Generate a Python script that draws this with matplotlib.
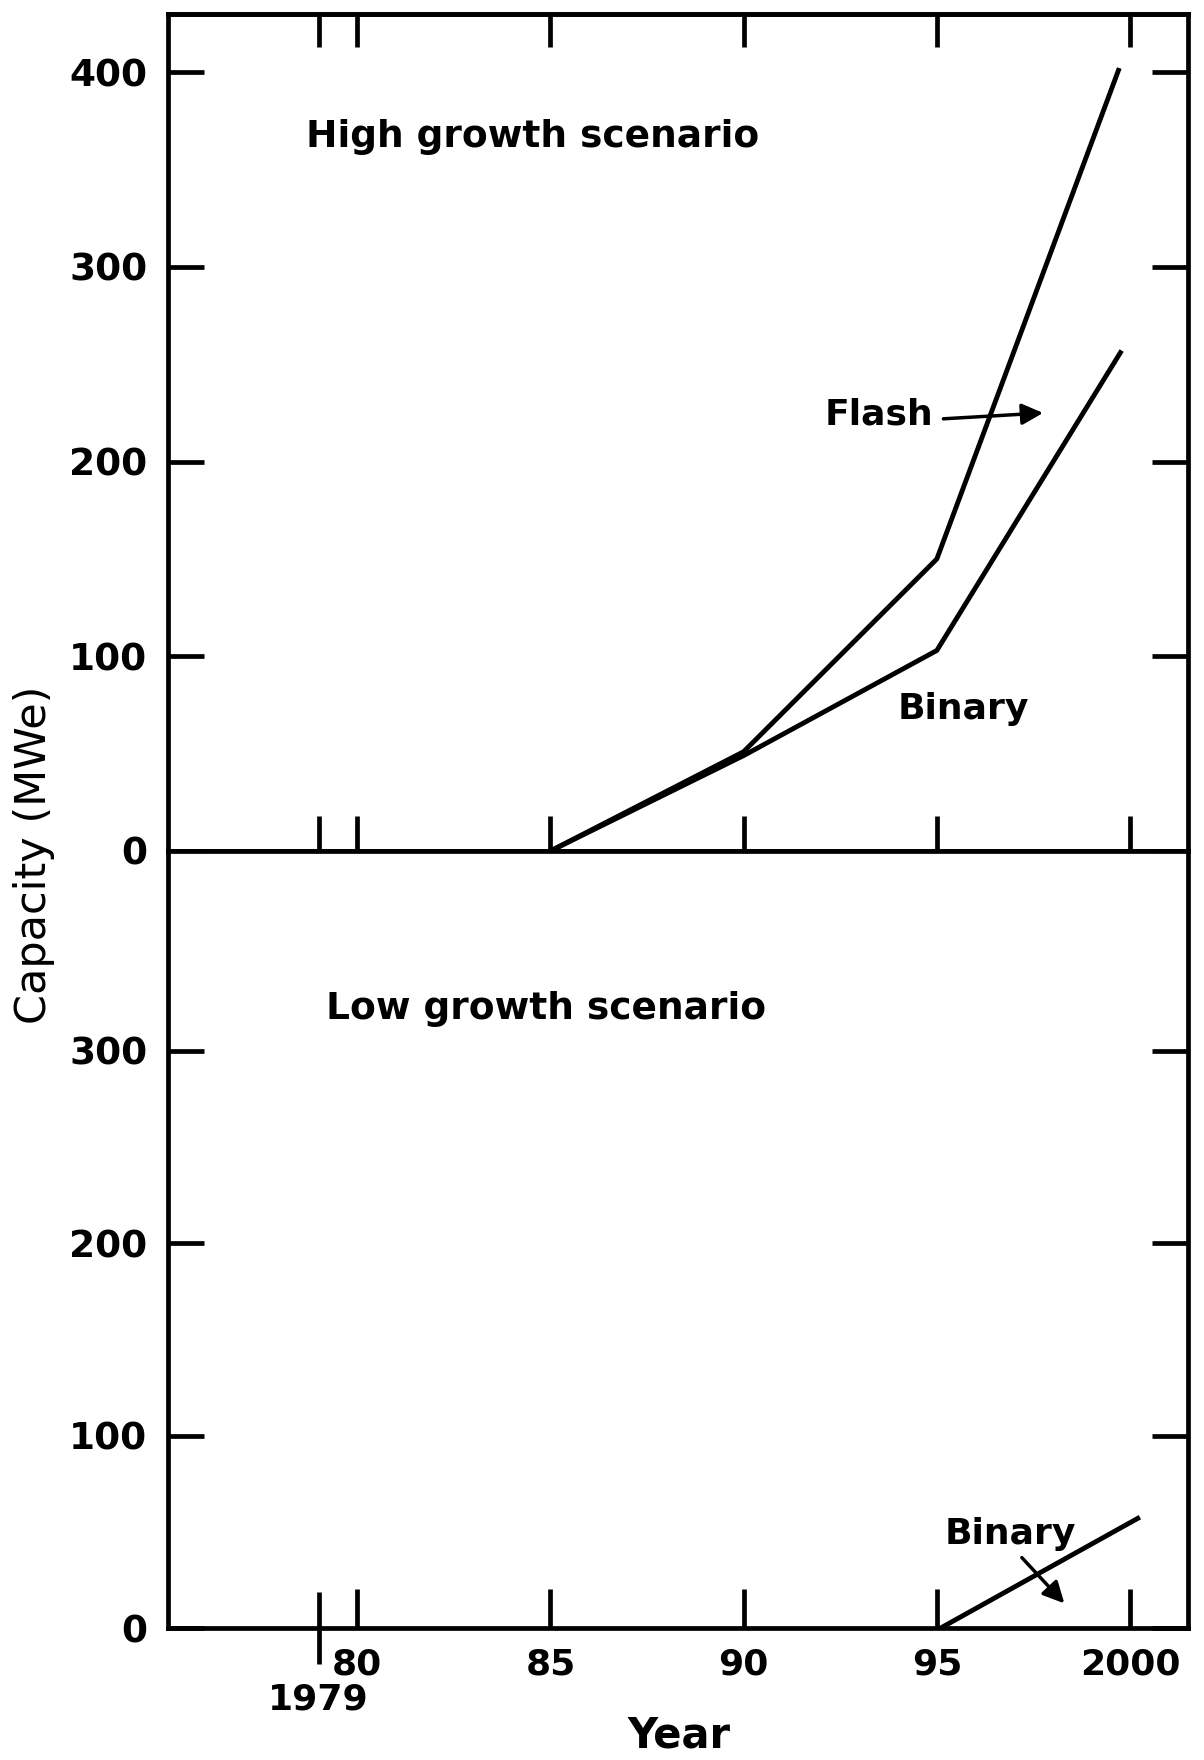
import matplotlib
matplotlib.use('Agg')
import matplotlib.pyplot as plt
from matplotlib.ticker import FixedLocator, FixedFormatter

# values
flash_high_years = [1985, 1990, 1995, 1999.7]
flash_high = [0, 51, 150, 401]
binary_high_years = [1985, 1990, 1995, 1999.75]
binary_high = [0, 49, 103, 256]
binary_low_years = [1995.1, 2000.2]
binary_low = [0, 57]

year_ticks = [1980, 1985, 1990, 1995, 2000]
year_labels = ['80', '85', '90', '95', '2000']
first_year = 1979
high_ticks = [0, 100, 200, 300, 400]
low_ticks = [0, 100, 200, 300]

plt.rcParams['font.family'] = ['DejaVu Sans']
plt.rcParams['font.weight'] = 'bold'

fig = plt.figure(figsize=(12.04, 17.6), dpi=100)
ax_hi = fig.add_axes([0.1395, 0.5165, 0.8472, 0.4756])
ax_lo = fig.add_axes([0.1395, 0.075, 0.8472, 0.4415])

for ax in (ax_hi, ax_lo):
    ax.set_xlim(1975.1, 2001.5)
    for sp in ax.spines.values():
        sp.set_linewidth(3.4)
    ax.tick_params(axis='y', which='major', left=True, right=True, direction='in',
                   length=26, width=3.4, labelsize=27, pad=15)

ax_hi.set_ylim(0, 430)
ax_lo.set_ylim(0, 404)
ax_hi.set_yticks(high_ticks)
ax_lo.set_yticks(low_ticks)

# top panel: crossing ticks on the shared zero line, inward ticks on top
ax_hi.set_xticks([first_year] + year_ticks)
ax_hi.tick_params(axis='x', which='major', bottom=True, top=False, direction='inout',
                  length=50, width=3.4, labelbottom=False)
sec = ax_hi.secondary_xaxis('top')
sec.set_xticks([first_year] + year_ticks)
sec.tick_params(axis='x', direction='in', length=24, width=3.4, labeltop=False)
sec.spines['top'].set_linewidth(3.4)

# bottom panel: year labels, 1979 drawn as a longer crossing tick
ax_lo.xaxis.set_major_locator(FixedLocator(year_ticks))
ax_lo.xaxis.set_major_formatter(FixedFormatter(year_labels))
ax_lo.xaxis.set_minor_locator(FixedLocator([first_year]))
ax_lo.xaxis.set_minor_formatter(FixedFormatter([str(first_year)]))
ax_lo.tick_params(axis='x', which='major', bottom=True, top=False, direction='in',
                  length=28, width=3.4, labelsize=26, pad=14)
ax_lo.tick_params(axis='x', which='minor', bottom=True, top=False, direction='inout',
                  length=52, width=3.4, labelsize=26, pad=13)

ax_hi.plot(flash_high_years, flash_high, color='black', lw=3.5)
ax_hi.plot(binary_high_years, binary_high, color='black', lw=3.5)
ax_lo.plot(binary_low_years, binary_low, color='black', lw=3.5)

ax_hi.text(1978.66, 367, 'High growth scenario', fontsize=27, fontweight='bold',
           ha='left', va='center')
ax_lo.text(1979.2, 322, 'Low growth scenario', fontsize=27, fontweight='bold',
           ha='left', va='center')

ax_hi.text(1992.1, 224, 'Flash', fontsize=26, fontweight='bold', ha='left', va='center')
ax_hi.annotate('', xy=(1997.75, 225), xytext=(1995.17, 222),
               arrowprops=dict(arrowstyle='-|>', color='black', lw=2.5,
                               mutation_scale=32, shrinkA=0, shrinkB=0))
ax_hi.text(1993.98, 73, 'Binary', fontsize=26, fontweight='bold', ha='left', va='center')

ax_lo.text(1995.2, 49, 'Binary', fontsize=26, fontweight='bold', ha='left', va='center')
ax_lo.annotate('', xy=(1998.3, 12.8), xytext=(1997.2, 36.6),
               arrowprops=dict(arrowstyle='-|>', color='black', lw=2.5,
                               mutation_scale=32, shrinkA=0, shrinkB=0))

fig.text(34 / 1204, 1 - 855 / 1760, 'Capacity (MWe)', rotation=90, ha='center',
         va='center', fontsize=31, fontweight='normal',
         family=['Liberation Sans Narrow', 'DejaVu Sans'])
fig.text(679 / 1204, 1 - 1735 / 1760, 'Year', ha='center', va='center', fontsize=30,
         fontweight='bold', family=['Liberation Sans Narrow', 'DejaVu Sans'])

fig.savefig('out.png', dpi=100)
